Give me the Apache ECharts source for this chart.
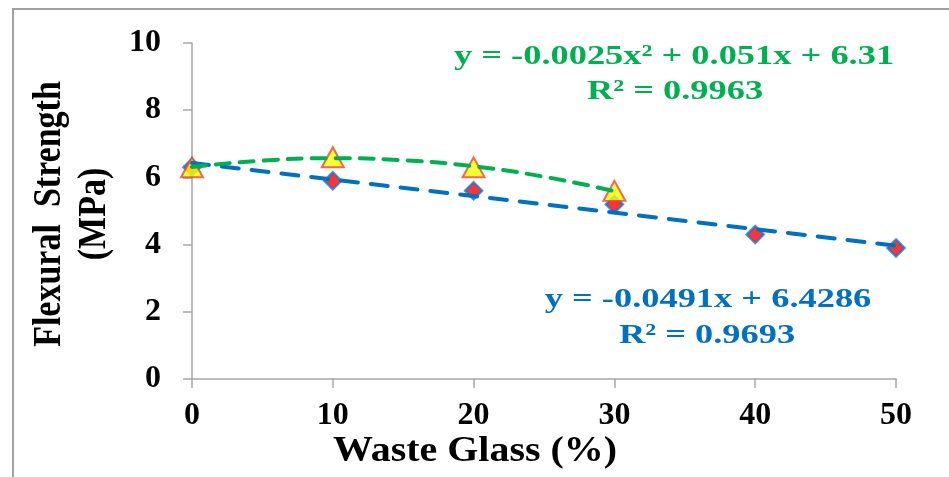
<!DOCTYPE html>
<html><head><meta charset="utf-8">
<script src="https://cdn.jsdelivr.net/npm/echarts@6/dist/echarts.min.js"></script>
<style>html,body{margin:0;padding:0;background:#fff}#c{width:949px;height:477px}</style>
</head><body><div id="c"></div>
<script>
const wasteGlass = [0, 10, 20, 30, 40, 50];
const strengthLinear = [6.3, 5.9, 5.6, 5.2, 4.3, 3.9];
const wasteGlassQuad = [0, 10, 20, 30];
const strengthQuad = [6.3, 6.6, 6.3, 5.6];
// trendline values
const trendQuadX = [0, 5, 10, 15, 20, 25, 30];
const trendQuadY = [6.31, 6.50, 6.57, 6.51, 6.33, 6.02, 5.59];
const trendLinX = [0, 50];
const trendLinY = [6.43, 3.97];
const quadEq = 'y = -0.0025x² + 0.051x + 6.31';
const quadR2 = 'R² = 0.9963';
const linEq = 'y = -0.0491x + 6.4286';
const linR2 = 'R² = 0.9693';
const xTitle = 'Waste Glass (%)';
const yTitle = 'Flexural  Strength\n(MPa)';

const FONT = 'Liberation Serif';
const pair = (xs, ys) => xs.map((x, i) => [x, ys[i]]);
const txt = (x, y, text, size, color, sx) => ({
  type: 'text', x: x, y: y, scaleX: sx,
  style: { text: text, font: 'bold ' + size + 'px "Liberation Serif"', fill: color, align: 'center', verticalAlign: 'middle' }
});
const chart = echarts.init(document.getElementById('c'));
chart.setOption({
  animation: false,
  grid: { left: 192, right: 53, top: 43, bottom: 98 },
  xAxis: {
    type: 'value', min: 0, max: 50, interval: 10,
    axisLine: { show: true, lineStyle: { color: '#A6A6A6', width: 1.5 } },
    axisTick: { show: true, length: 9, lineStyle: { color: '#A6A6A6', width: 1.5 } },
    splitLine: { show: false },
    axisLabel: { margin: 21, color: '#000', fontFamily: FONT, fontWeight: 'bold', fontSize: 32 }
  },
  yAxis: {
    type: 'value', min: 0, max: 10, interval: 2,
    axisLine: { show: true, lineStyle: { color: '#A6A6A6', width: 1.5 } },
    axisTick: { show: true, length: 9, lineStyle: { color: '#A6A6A6', width: 1.5 } },
    splitLine: { show: false },
    axisLabel: { margin: 31, color: '#000', fontFamily: FONT, fontWeight: 'bold', fontSize: 32 }
  },
  series: [
    { type: 'scatter', data: pair(wasteGlass, strengthLinear), symbol: 'diamond', symbolSize: [17, 17],
      itemStyle: { color: '#FF0000', borderColor: '#1F73C8', borderWidth: 2.5 }, z: 3 },
    { type: 'scatter', data: pair(wasteGlassQuad, strengthQuad), symbol: 'triangle', symbolSize: [22, 20],
      itemStyle: { color: '#FFFF00', borderColor: '#E8453C', borderWidth: 2 }, z: 4 },
    { type: 'line', data: pair(trendLinX, trendLinY), showSymbol: false, symbol: 'none',
      lineStyle: { color: '#0070C0', width: 4, type: [17, 13], cap: 'round' }, z: 5 },
    { type: 'line', data: pair(trendQuadX, trendQuadY), showSymbol: false, symbol: 'none', smooth: true,
      lineStyle: { color: '#00B050', width: 4, type: [14, 10], cap: 'round' }, z: 5 }
  ],
  graphic: [
    { type: 'rect', shape: { x: 13, y: 9, width: 1000, height: 1000 }, style: { fill: 'none', stroke: '#A0A0A0', lineWidth: 2 }, z: 0 },
    { type: 'text', x: 72, y: 214, rotation: Math.PI / 2, scaleY: 1.17,
      style: { text: yTitle, font: 'bold 34px "Liberation Serif"', fill: '#000', align: 'center', verticalAlign: 'middle', lineHeight: 38 } },
    txt(475, 452, xTitle, 36, '#000', 1.11),
    txt(674, 57, quadEq, 28, '#00B050', 1.3),
    txt(675, 92, quadR2, 28, '#00B050', 1.3),
    txt(708, 300, linEq, 28, '#0070C0', 1.3),
    txt(707, 336, linR2, 28, '#0070C0', 1.3)
  ]
});
</script></body></html>
